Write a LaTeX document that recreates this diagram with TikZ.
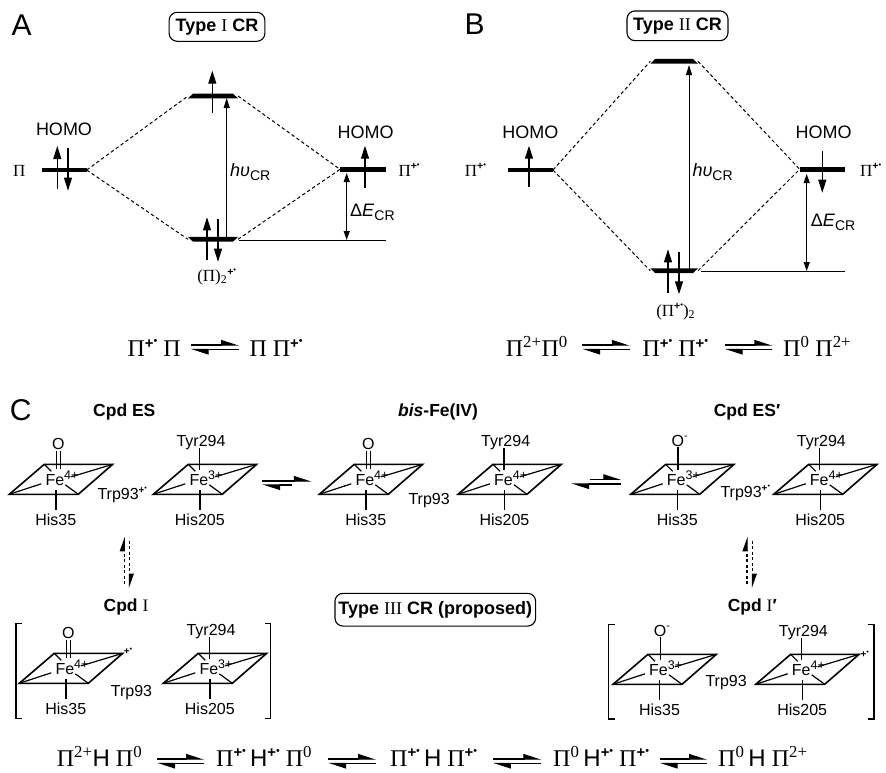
\documentclass[tikz,border=0pt]{standalone}
\usepackage{fontspec}
\setmainfont{Liberation Sans}
\newfontfamily\pifont{Liberation Serif}
\newfontfamily\arialfont{Liberation Sans}
\usetikzlibrary{arrows.meta}
\newcommand\fsz[1]{\fontsize{#1}{#1}\selectfont}
\newcommand\radcat{\raisebox{.36em}{\scalebox{.62}{\arialfont\bfseries +}\raisebox{.16em}{\scalebox{.45}{\pifont\bfseries •}}}}
\newcommand\Hs{{\arialfont H}}
\newcommand\chg[1]{\raisebox{.36em}{\fsz{12.5}#1}}
\tikzset{
  plate/.style={line width=1.6pt,line join=miter},
  inner/.style={line width=1.2pt},
  bond/.style={line width=1.1pt},
  sans/.style={font=\fsz{16},inner sep=0pt},
  homo/.style={font=\fsz{18},inner sep=0pt},
  pilabel/.style={font=\pifont\fsz{17},inner sep=0pt,anchor=base west},
  pilabelc/.style={font=\pifont\fsz{17},inner sep=0pt},
  bignum/.style={font=\pifont\fsz{24},inner sep=0pt,anchor=base west},
  panel/.style={font=\fsz{30},inner sep=0pt},
  head/.style={font=\bfseries\fsz{17.5},inner sep=0pt},
  typebox/.style={draw,line width=1.1pt,rounded corners=8pt,inner sep=0pt,font=\bfseries\fsz{18}},
  dline/.style={dash pattern=on 3.4pt off 2.6pt,line width=1pt},
  elec/.style={line width=1.1pt,-{Triangle[length=13pt,width=8pt]}},
  gap/.style={line width=1pt,-{Triangle[length=10pt,width=6pt]}},
  gapboth/.style={line width=1.1pt,{Triangle[length=9pt,width=6pt]}-{Triangle[length=9pt,width=6pt]}},
  base/.style={line width=1.1pt},
  flat/.style={line width=4.4pt},
  eqh/.style={line width=1.2pt,-{Stealth[harpoon,length=16pt,width=10pt,inset=0pt]}},
  eqd/.style={line width=1.1pt,dash pattern=on 3pt off 2.5pt,-{Stealth[harpoon,length=13pt,width=9pt,inset=0pt]}},
  brk/.style={line width=1.2pt},
  mathlabel/.style={font=\fsz{18},inner sep=0pt,anchor=base west}
}
\newcommand\lvltop[4]{\coordinate (#1-l) at (#2,#4);\coordinate (#1-r) at (#3,#4);
  \fill (#2,#4+2.4) -- (#3,#4+2.4) -- (#3-5,#4-2.4) -- (#2+5,#4-2.4) -- cycle;}
\newcommand\lvlbot[4]{\coordinate (#1-l) at (#2,#4);\coordinate (#1-r) at (#3,#4);
  \fill (#2,#4-2.4) -- (#3,#4-2.4) -- (#3-5,#4+2.4) -- (#2+5,#4+2.4) -- cycle;}
\newcommand\lvlflat[4]{\coordinate (#1-l) at (#2,#4);\coordinate (#1-r) at (#3,#4);
  \draw[flat] (#1-l) -- (#1-r);}
\newcommand\eqarr[7]{\coordinate (#1-a) at (#2,#4);\coordinate (#1-b) at (#3,#4);
  \coordinate (#1-c) at (#6,#7);\coordinate (#1-d) at (#5,#7);
  \draw[eqh] (#1-a) -- (#1-b);\draw[eqh] (#1-c) -- (#1-d);}
\newcommand\heme[6]{\begin{scope}[shift={(#2,#3)},name prefix=#1-]
  \coordinate (bl) at (0,0);\coordinate (tl) at (35,-30);\coordinate (tr) at (103.4,-30);\coordinate (br) at (69,0);
  \coordinate (ia) at (32,-10.5);\coordinate (ib) at (62,-17.5);\coordinate (ic) at (42,-23);\coordinate (id) at (56,-9.5);
  \draw[plate] (bl) -- (tl) -- (tr) -- (br) -- cycle;
  \draw[inner] (bl) -- (ia) (tr) -- (ib) (tl) -- (ic) (br) -- (id);
  \node[sans,anchor=base west] (fe) at (36,-9.2) {Fe\chg{#4}};
  \coordinate (ax) at (46.7,-4.3);\coordinate (ay) at (46.7,15.7);
  \draw[bond] (ax) -- (ay);
  \node[sans] (bot) at (46.5,25) {#6};
  \ifcase#5\relax
    \node[sans] (top) at (49,-50) {O};
    \draw[bond] (47,-43.6) -- (47,-25) (51,-43.6) -- (51,-25);
  \or
    \node[sans] (top) at (49,-53) {O\raisebox{.45em}{\fsz{11}-}};
    \draw[bond] (47.3,-47) -- (47.3,-24);
  \or
    \node[sans] (top) at (47.7,-52) {Tyr294};
    \draw[bond] (46,-46) -- (46,-24);
  \fi
\end{scope}}
\begin{document}
\begin{tikzpicture}[x=1pt,y=-1pt]
\useasboundingbox (0,0) rectangle (886,772);
% Panel A
\node[panel] (lblA) at (21.7,25) {A};
\node[typebox,minimum width=95.7pt,minimum height=29pt] (boxA) at (217,26.8) {Type {\pifont\mdseries I} CR};
\lvlflat{Al}{41.7}{86.7}{170}
\lvltop{At}{188}{238}{96}
\lvlbot{Ab}{188}{238}{239.3}
\lvlflat{Ar}{340}{386}{169.3}
\draw[dline] (Al-r) -- (At-l) (Al-r) -- (Ab-l) (At-r) -- (Ar-l) (Ab-r) -- (Ar-l);
\coordinate (Ae) at (239.3,240.3);\coordinate (Af) at (386,240.3);
\draw[base] (Ae) -- (Af);
\coordinate (Ag) at (226.7,240);\coordinate (Ah) at (226.7,98);
\draw[gap] (Ag) -- (Ah);
\coordinate (Ai) at (346.7,173);\coordinate (Aj) at (346.7,240);
\draw[gapboth] (Ai) -- (Aj);
\coordinate (Ae1) at (57.3,188.7);\coordinate (Ae2) at (57.3,146);\draw[elec] (Ae1) -- (Ae2);
\coordinate (Ae3) at (68,148.3);\coordinate (Ae4) at (68,190.7);\draw[elec] (Ae3) -- (Ae4);
\coordinate (Ae5) at (212.3,112.7);\coordinate (Ae6) at (212.3,70.7);\draw[elec] (Ae5) -- (Ae6);
\coordinate (Ae7) at (207,260);\coordinate (Ae8) at (207,217.3);\draw[elec] (Ae7) -- (Ae8);
\coordinate (Ae9) at (218,219.3);\coordinate (Ae10) at (218,261.7);\draw[elec] (Ae9) -- (Ae10);
\coordinate (Ae11) at (365,187.7);\coordinate (Ae12) at (365,145.7);\draw[elec] (Ae11) -- (Ae12);
\node[homo] (Ahl) at (64,129.3) {HOMO};
\node[homo] (Ahr) at (365.5,132.5) {HOMO};
\node[pilabel] (Apl) at (13,176) {Π};
\node[pilabel] (Apr) at (398.3,176) {Π\radcat};
\node[mathlabel] (Ahv) at (230,176.7) {\textit{hυ}{\fsz{14}\raisebox{-.3em}{CR}}};
\node[mathlabel] (Ade) at (350,216) {Δ\textit{E}{\fsz{14}\raisebox{-.3em}{CR}}};
\node[pilabelc] (Adm) at (216.7,277) {(Π)\textsubscript{2}\radcat};
\node[bignum] (Aq1) at (127.3,356.7) {Π\radcat\ Π};
\eqarr{Aq}{190.7}{239}{345}{190.7}{239}{349.5}
\node[bignum] (Aq2) at (249.3,356.7) {Π Π\radcat};
% Panel B
\node[panel] (lblB) at (474.7,24) {B};
\node[typebox,minimum width=101pt,minimum height=29.7pt] (boxB) at (677.5,25.8) {Type {\pifont\mdseries II} CR};
\lvlflat{Bl}{508}{553}{170}
\lvltop{Bt}{650.3}{698}{61.3}
\lvlbot{Bb}{650.3}{698}{270.7}
\lvlflat{Br}{799.7}{844.7}{169.3}
\draw[dline] (Bl-r) -- (Bt-l) (Bl-r) -- (Bb-l) (Bt-r) -- (Br-l) (Bb-r) -- (Br-l);
\coordinate (Be) at (701.3,271.7);\coordinate (Bf) at (844.7,271.7);
\draw[base] (Be) -- (Bf);
\coordinate (Bg) at (689,270);\coordinate (Bh) at (689,65);
\draw[gap] (Bg) -- (Bh);
\coordinate (Bi) at (806.7,174);\coordinate (Bj) at (806.7,271);
\draw[gapboth] (Bi) -- (Bj);
\coordinate (Be1) at (529,187.3);\coordinate (Be2) at (529,145.7);\draw[elec] (Be1) -- (Be2);
\coordinate (Be3) at (822.3,150.7);\coordinate (Be4) at (822.3,192.7);\draw[elec] (Be3) -- (Be4);
\coordinate (Be5) at (668,293.3);\coordinate (Be6) at (668,249.3);\draw[elec] (Be5) -- (Be6);
\coordinate (Be7) at (679,252);\coordinate (Be8) at (679,294.3);\draw[elec] (Be7) -- (Be8);
\node[homo] (Bhl) at (530.3,132.7) {HOMO};
\node[homo] (Bhr) at (823.7,132.7) {HOMO};
\node[pilabel] (Bpl) at (464.7,176) {Π\radcat};
\node[pilabel] (Bpr) at (860,176) {Π\radcat};
\node[mathlabel] (Bhv) at (692.3,176.7) {\textit{hυ}{\fsz{14}\raisebox{-.3em}{CR}}};
\node[mathlabel] (Bde) at (810.7,226.7) {Δ\textit{E}{\fsz{14}\raisebox{-.3em}{CR}}};
\node[pilabelc] (Bdm) at (675.7,311.7) {(Π\radcat)\textsubscript{2}};
\node[bignum] (Bq1) at (505.7,356.7) {Π\textsuperscript{2+}Π\textsuperscript{0}};
\eqarr{Bqa}{582.3}{629.7}{345}{582.3}{629.7}{349.5}
\node[bignum] (Bq2) at (642.3,356.7) {Π\radcat\ Π\radcat};
\eqarr{Bqb}{724.7}{772.3}{345}{724.7}{772.3}{349.5}
\node[bignum] (Bq3) at (783,356.7) {Π\textsuperscript{0} Π\textsuperscript{2+}};
% Panel C
\node[panel] (lblC) at (20.7,410) {C};
\node[head] (hES) at (124.3,411.7) {Cpd ES};
\node[head] (hBis) at (438,411.7) {\textit{bis}-Fe(IV)};
\node[head] (hESp) at (747,411.7) {Cpd ES′};
\heme{h1}{9.3}{494.3}{4+}{0}{His35}
\heme{h2}{153.3}{494.3}{3+}{2}{His205}
\heme{h3}{319.3}{494.3}{4+}{0}{His35}
\heme{h4}{458}{494.3}{4+}{2}{His205}
\heme{h5}{630.7}{494.3}{3+}{1}{His35}
\heme{h6}{773.7}{494.3}{4+}{2}{His205}
\heme{h7}{19.3}{683.3}{4+}{0}{His35}
\heme{h8}{163.3}{683.3}{3+}{2}{His205}
\heme{h9}{613}{684.3}{3+}{1}{His35}
\heme{h10}{755.7}{684.3}{4+}{2}{His205}
\node[sans,anchor=base west] (t1) at (97.3,499.3) {Trp93\radcat};
\node[sans,anchor=base west] (t2) at (408.3,504) {Trp93};
\node[sans,anchor=base west] (t3) at (720.3,497.3) {Trp93\radcat};
\node[sans,anchor=base west] (t4) at (110.7,696) {Trp93};
\node[sans,anchor=base west] (t5) at (705.3,686.7) {Trp93};
\node[sans] (r7) at (128,654) {\radcat};
\node[sans] (r10) at (864.7,657) {\radcat};
\eqarr{Ca}{262.3}{311.7}{481}{262.3}{291.7}{485}
\eqarr{Cb}{589.7}{621.3}{479.3}{571.3}{621.3}{484}
\coordinate (v1a) at (124.3,584);\coordinate (v1b) at (124.3,536.7);
\coordinate (v1c) at (129.3,540.7);\coordinate (v1d) at (129.3,588.3);
\draw[eqd] (v1a) -- (v1b);\draw[eqd] (v1c) -- (v1d);
\coordinate (v2a) at (747,584);\coordinate (v2b) at (747,536.7);
\coordinate (v2c) at (752.3,540.7);\coordinate (v2d) at (752.3,588.3);
\draw[eqd] (v2a) -- (v2b);\draw[eqd] (v2c) -- (v2d);
\node[head] (hI) at (126,606.7) {Cpd {\pifont\mdseries I}};
\node[head] (hIp) at (752.3,606.7) {Cpd {\pifont\mdseries I}′};
\node[typebox,minimum width=200.7pt,minimum height=32.7pt] (boxC) at (435.3,609.7) {Type {\pifont\mdseries III} CR (proposed)};
\coordinate (b1a) at (22,623.3);\coordinate (b1b) at (16,623.3);\coordinate (b1c) at (16,718.3);\coordinate (b1d) at (22,718.3);
\coordinate (b2a) at (264.7,623.3);\coordinate (b2b) at (270.7,623.3);\coordinate (b2c) at (270.7,718.3);\coordinate (b2d) at (264.7,718.3);
\coordinate (b3a) at (614.7,624.3);\coordinate (b3b) at (608.7,624.3);\coordinate (b3c) at (608.7,719);\coordinate (b3d) at (614.7,719);
\coordinate (b4a) at (868,624.3);\coordinate (b4b) at (874,624.3);\coordinate (b4c) at (874,719);\coordinate (b4d) at (868,719);
\draw[brk] (b1a) -- (b1b) -- (b1c) -- (b1d);
\draw[brk] (b2a) -- (b2b) -- (b2c) -- (b2d);
\draw[brk] (b3a) -- (b3b) -- (b3c) -- (b3d);
\draw[brk] (b4a) -- (b4b) -- (b4c) -- (b4d);
% Bottom equilibrium
\node[bignum] (Cq1) at (56.7,766.5) {Π\textsuperscript{2+}\Hs\ Π\textsuperscript{0}};
\eqarr{Cqa}{157.3}{204}{759}{157.3}{204}{763.5}
\node[bignum] (Cq2) at (216,766.5) {Π\radcat\,\Hs\radcat\ Π\textsuperscript{0}};
\eqarr{Cqb}{328.3}{376}{759}{328.3}{376}{763.5}
\node[bignum] (Cq3) at (390,766.5) {Π\radcat\,\Hs\ Π\radcat};
\eqarr{Cqc}{493}{541.3}{759}{493}{541.3}{763.5}
\node[bignum] (Cq4) at (553,766.5) {Π\textsuperscript{0}\,\Hs\radcat\ Π\radcat};
\eqarr{Cqd}{659.7}{707}{759}{659.7}{707}{763.5}
\node[bignum] (Cq5) at (718,766.5) {Π\textsuperscript{0}\,\Hs\ Π\textsuperscript{2+}};
\end{tikzpicture}
\end{document}
